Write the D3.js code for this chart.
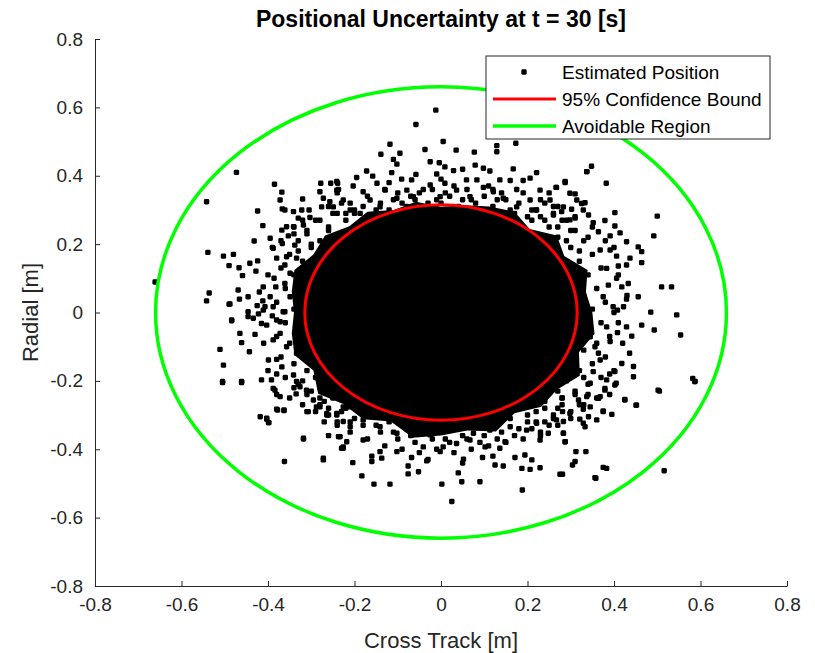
<!DOCTYPE html>
<html>
<head>
<meta charset="utf-8">
<script src="https://cdn.jsdelivr.net/npm/d3@7"></script>
<style>
  body { margin: 0; background: #fff; }
  svg { font-family: "Liberation Sans", Arial, Helvetica, sans-serif; }
</style>
</head>
<body>
<div id="chart"></div>
<script>
// axis ticks
const xTicks = [-0.8, -0.6, -0.4, -0.2, 0, 0.2, 0.4, 0.6, 0.8];
const yTicks = [-0.8, -0.6, -0.4, -0.2, 0, 0.2, 0.4, 0.6, 0.8];

// circle radii (95% bound and avoidable region)
const confidenceRadius = 0.315;
const avoidRadius = 0.66;

// the solid dense core of the cloud (ragged outline)
const coreOutline = [
  [0.350, 0], [0.335, 0.059], [0.339, 0.124], [0.285, 0.165], [0.268, 0.225], [0.205, 0.244],
  [0.170, 0.295], [0.112, 0.310], [0.056, 0.314], [0, 0.309], [-0.058, 0.324], [-0.109, 0.300],
  [-0.170, 0.295], [-0.212, 0.252], [-0.268, 0.225], [-0.295, 0.170], [-0.339, 0.124], [-0.345, 0.061],
  [-0.34, 0], [-0.345, -0.061], [-0.339, -0.124], [-0.295, -0.170], [-0.284, -0.238], [-0.226, -0.268],
  [-0.180, -0.312], [-0.116, -0.319], [-0.065, -0.366], [0, -0.36], [0.061, -0.345], [0.127, -0.348],
  [0.170, -0.295], [0.232, -0.276], [0.268, -0.226], [0.321, -0.185], [0.319, -0.116], [0.355, -0.063]
];

// dense band just outside the core
const ptsBandTop = [
  [-0.22, 0.27], [-0.20, 0.29], [-0.18, 0.31], [-0.16, 0.28], [-0.14, 0.32], [-0.12, 0.30], [-0.10, 0.35],
  [-0.08, 0.31], [-0.06, 0.33], [-0.04, 0.30], [-0.02, 0.36], [0.00, 0.32], [0.02, 0.34], [0.04, 0.31],
  [0.06, 0.36], [0.08, 0.32], [0.10, 0.34], [0.12, 0.31], [0.14, 0.35], [0.16, 0.30], [0.18, 0.32],
  [0.20, 0.28], [0.22, 0.30], [0.24, 0.27], [-0.21, 0.32], [-0.17, 0.34], [-0.13, 0.36], [-0.09, 0.32],
  [-0.05, 0.35], [-0.01, 0.33], [0.03, 0.37], [0.07, 0.33], [0.11, 0.37], [0.15, 0.33], [0.19, 0.35],
  [0.23, 0.33], [-0.19, 0.26], [-0.15, 0.30], [-0.11, 0.33], [-0.07, 0.34], [-0.03, 0.32], [0.01, 0.35],
  [0.05, 0.33], [0.09, 0.30], [0.13, 0.33], [0.17, 0.29], [0.21, 0.27], [-0.24, 0.29], [-0.12, 0.38],
  [0.00, 0.39], [0.12, 0.36], [0.26, 0.31], [-0.26, 0.25], [0.27, 0.25]
];

const ptsBandBottom = [
  [-0.22, -0.28], [-0.20, -0.31], [-0.18, -0.33], [-0.16, -0.30], [-0.14, -0.35], [-0.12, -0.32],
  [-0.10, -0.37], [-0.08, -0.34], [-0.06, -0.38], [-0.04, -0.33], [-0.02, -0.37], [0.00, -0.35],
  [0.02, -0.38], [0.04, -0.34], [0.06, -0.37], [0.08, -0.33], [0.10, -0.36], [0.12, -0.32], [0.14, -0.35],
  [0.16, -0.31], [0.18, -0.34], [0.20, -0.30], [0.22, -0.32], [0.24, -0.28], [0.26, -0.30],
  [-0.21, -0.35], [-0.17, -0.37], [-0.13, -0.39], [-0.09, -0.40], [-0.05, -0.41], [-0.01, -0.40],
  [0.03, -0.41], [0.07, -0.40], [0.11, -0.39], [0.15, -0.38], [0.19, -0.37], [0.23, -0.35], [0.27, -0.33],
  [-0.24, -0.32], [-0.19, -0.29], [-0.15, -0.33], [-0.11, -0.35], [-0.07, -0.36], [-0.03, -0.35],
  [0.01, -0.37], [0.05, -0.36], [0.09, -0.38], [0.13, -0.37], [0.17, -0.36], [0.21, -0.34], [0.25, -0.33],
  [-0.27, -0.26], [-0.26, -0.30], [0.28, -0.27], [0.30, -0.31], [-0.16, -0.42], [0.12, -0.42],
  [-0.03, -0.43], [0.05, -0.44]
];

const ptsBandLeft = [
  [-0.31, 0.24], [-0.33, 0.21], [-0.30, 0.19], [-0.35, 0.17], [-0.32, 0.15], [-0.37, 0.13], [-0.34, 0.11],
  [-0.31, 0.09], [-0.36, 0.07], [-0.33, 0.05], [-0.38, 0.03], [-0.34, 0.01], [-0.31, -0.01], [-0.36, -0.03],
  [-0.33, -0.05], [-0.38, -0.07], [-0.35, -0.09], [-0.32, -0.11], [-0.37, -0.13], [-0.34, -0.15],
  [-0.31, -0.17], [-0.36, -0.19], [-0.33, -0.21], [-0.30, -0.23], [-0.35, -0.25], [-0.32, -0.27],
  [-0.29, -0.29], [-0.39, 0.19], [-0.40, 0.11], [-0.39, -0.01], [-0.41, -0.09], [-0.40, -0.17],
  [-0.38, -0.24], [-0.42, 0.06], [-0.29, 0.27], [-0.28, -0.25], [-0.34, 0.25], [-0.37, 0.21], [-0.38, -0.18]
];

const ptsBandRight = [
  [0.31, 0.24], [0.33, 0.21], [0.30, 0.19], [0.35, 0.17], [0.32, 0.15], [0.37, 0.13], [0.34, 0.11],
  [0.31, 0.09], [0.36, 0.07], [0.33, 0.05], [0.38, 0.03], [0.35, 0.01], [0.32, -0.01], [0.37, -0.03],
  [0.34, -0.05], [0.39, -0.07], [0.36, -0.09], [0.33, -0.11], [0.38, -0.13], [0.35, -0.15], [0.32, -0.17],
  [0.37, -0.19], [0.34, -0.21], [0.31, -0.23], [0.36, -0.25], [0.33, -0.27], [0.30, -0.29], [0.40, 0.19],
  [0.41, 0.11], [0.40, 0.00], [0.42, -0.09], [0.40, -0.17], [0.39, -0.24], [0.43, 0.05], [0.29, 0.27],
  [0.28, -0.25], [0.35, 0.25], [0.38, 0.21], [0.39, -0.18], [0.41, -0.03]
];

// dense band on the diagonals
const ptsBandDiagonal = [
  [0.25, 0.25], [0.27, 0.22], [0.23, 0.28], [0.29, 0.21], [0.26, 0.29], [0.30, 0.24], [0.24, 0.32],
  [0.32, 0.18], [0.28, 0.27], [0.21, 0.30], [0.31, 0.28], [0.27, 0.31], [0.34, 0.22], [0.25, 0.35],
  [-0.26, 0.24], [-0.28, 0.21], [-0.22, 0.29], [-0.30, 0.20], [-0.25, 0.29], [-0.31, 0.23], [-0.23, 0.32],
  [-0.33, 0.18], [-0.28, 0.27], [-0.20, 0.30], [-0.32, 0.27], [-0.26, 0.31], [-0.34, 0.23], [-0.24, 0.35],
  [0.24, -0.26], [0.27, -0.23], [0.22, -0.29], [0.29, -0.20], [0.27, -0.28], [0.31, -0.24], [0.24, -0.32],
  [0.33, -0.19], [0.28, -0.25], [0.20, -0.32], [0.32, -0.27], [0.26, -0.31], [0.34, -0.24], [0.23, -0.36],
  [-0.25, -0.25], [-0.28, -0.22], [-0.23, -0.29], [-0.29, -0.19], [-0.26, -0.28], [-0.31, -0.24],
  [-0.24, -0.33], [-0.32, -0.20], [-0.28, -0.27], [-0.21, -0.32], [-0.31, -0.29], [-0.27, -0.32],
  [-0.34, -0.22], [-0.26, -0.36]
];

// estimated positions, upper left
const ptsUpperLeft = [
  [-0.661, 0.089], [-0.542, 0.324], [-0.473, 0.410], [-0.539, 0.176], [-0.536, 0.057], [-0.542, 0.034],
  [-0.385, 0.375], [-0.368, 0.352], [-0.372, 0.329], [-0.424, 0.297], [-0.412, 0.254], [-0.432, 0.209],
  [-0.503, 0.165], [-0.480, 0.170], [-0.490, 0.137], [-0.467, 0.131], [-0.459, 0.108], [-0.442, 0.144],
  [-0.424, 0.151], [-0.428, 0.121], [-0.386, 0.100], [-0.411, 0.075], [-0.469, 0.066], [-0.466, 0.039],
  [-0.446, 0.046], [-0.490, 0.024], [-0.484, -0.024], [-0.446, 0.002], [-0.425, 0.020], [-0.412, 0.034],
  [-0.367, 0.303], [-0.361, 0.300], [-0.341, 0.295], [-0.320, 0.332], [-0.322, 0.300], [-0.305, 0.300],
  [-0.278, 0.378], [-0.255, 0.378], [-0.239, 0.378], [-0.280, 0.353], [-0.237, 0.360], [-0.272, 0.334],
  [-0.257, 0.324], [-0.276, 0.309], [-0.330, 0.276], [-0.303, 0.278], [-0.357, 0.251], [-0.368, 0.241],
  [-0.341, 0.251], [-0.318, 0.256], [-0.353, 0.224], [-0.395, 0.217], [-0.388, 0.188], [-0.367, 0.202],
  [-0.338, 0.197], [-0.357, 0.163], [-0.380, 0.159], [-0.361, 0.139], [-0.334, 0.159], [-0.349, 0.115],
  [-0.326, 0.124], [-0.382, 0.075], [-0.361, 0.085], [-0.349, 0.046], [-0.395, 0.046], [-0.411, 0.007],
  [-0.388, 0.017], [-0.434, -0.017], [-0.415, -0.032], [-0.365, 0.002], [-0.372, -0.027]
];

// estimated positions, top
const ptsTop = [
  [-0.012, 0.592], [-0.058, 0.550], [0.005, 0.500], [-0.118, 0.492], [-0.037, 0.477], [0.035, 0.475],
  [0.077, 0.469], [0.129, 0.488], [0.129, 0.470], [0.173, 0.495], [-0.139, 0.463], [-0.095, 0.466],
  [-0.110, 0.448], [-0.102, 0.434], [-0.025, 0.441], [-0.004, 0.438], [0.009, 0.426], [0.079, 0.431],
  [0.098, 0.422], [0.167, 0.420], [-0.172, 0.414], [-0.114, 0.409], [-0.058, 0.404], [-0.010, 0.405],
  [0.029, 0.415], [0.050, 0.419], [0.113, 0.414], [0.221, 0.409], [-0.195, 0.395], [-0.158, 0.399],
  [-0.148, 0.378], [-0.091, 0.390], [-0.068, 0.388], [-0.025, 0.373], [0.009, 0.378], [0.059, 0.388],
  [0.083, 0.388], [0.136, 0.388], [0.160, 0.386], [0.190, 0.386], [0.206, 0.393], [0.267, 0.366],
  [0.287, 0.383], [0.337, 0.412], [-0.241, 0.383], [-0.241, 0.358], [-0.203, 0.370], [-0.180, 0.353],
  [-0.129, 0.358], [-0.079, 0.358], [-0.041, 0.360], [0.036, 0.358], [0.098, 0.366], [0.121, 0.353],
  [0.175, 0.360], [0.229, 0.358], [0.298, 0.349], [0.314, 0.329], [0.329, 0.300], [0.310, 0.276],
  [0.283, 0.309], [0.252, 0.329], [-0.226, 0.329], [-0.249, 0.309], [-0.210, 0.300], [-0.164, 0.329],
  [-0.102, 0.334], [-0.064, 0.339], [-0.002, 0.339], [0.067, 0.339], [0.144, 0.334], [0.206, 0.329],
  [0.175, 0.309], [0.221, 0.300], [-0.141, 0.309], [-0.187, 0.290], [0.260, 0.285]
];

// estimated positions, right
const ptsRight = [
  [0.348, 0.428], [0.337, 0.412], [0.382, 0.378], [0.287, 0.380], [0.266, 0.366], [0.310, 0.347],
  [0.333, 0.321], [0.325, 0.319], [0.279, 0.295], [0.302, 0.302], [0.341, 0.285], [0.402, 0.292],
  [0.500, 0.282], [0.492, 0.224], [0.298, 0.271], [0.352, 0.263], [0.379, 0.269], [0.402, 0.253],
  [0.364, 0.236], [0.414, 0.233], [0.391, 0.224], [0.429, 0.207], [0.456, 0.192], [0.464, 0.178],
  [0.464, 0.146], [0.437, 0.159], [0.406, 0.165], [0.391, 0.183], [0.368, 0.183], [0.410, 0.136],
  [0.383, 0.129], [0.429, 0.139], [0.406, 0.100], [0.433, 0.085], [0.387, 0.080], [0.418, 0.075],
  [0.510, 0.075], [0.533, 0.075], [0.456, 0.046], [0.429, 0.039], [0.375, 0.046], [0.398, 0.017],
  [0.422, 0.017], [0.408, 0.007], [0.485, 0.001], [0.545, -0.007], [0.464, -0.037], [0.493, -0.051],
  [0.554, -0.066], [0.429, -0.042], [0.441, -0.069], [0.408, -0.059], [0.383, -0.042], [0.391, -0.085],
  [0.436, -0.119], [0.445, -0.158], [0.445, -0.188], [0.418, -0.149], [0.402, -0.173], [0.368, -0.139],
  [0.383, -0.197], [0.405, -0.207], [0.379, -0.227], [0.425, -0.254], [0.451, -0.271], [0.502, -0.227],
  [0.582, -0.193], [0.587, -0.202], [0.352, -0.173], [0.345, -0.207], [0.337, -0.246], [0.364, -0.251],
  [0.356, -0.100], [0.345, -0.071], [0.364, -0.119]
];

// estimated positions, left
const ptsLeft = [
  [-0.511, -0.108], [-0.503, -0.154], [-0.505, -0.202], [-0.461, -0.202], [-0.465, -0.061], [-0.461, -0.088],
  [-0.443, -0.115], [-0.430, -0.064], [-0.484, -0.022], [-0.446, -0.012], [-0.488, 0.025], [-0.422, -0.004],
  [-0.399, -0.139], [-0.380, -0.137], [-0.415, -0.197], [-0.392, -0.197], [-0.384, -0.227], [-0.372, -0.246],
  [-0.418, -0.305], [-0.403, -0.309], [-0.399, -0.322], [-0.380, -0.283], [-0.363, -0.285], [-0.335, -0.238],
  [-0.334, -0.202], [-0.368, -0.159], [-0.341, -0.183], [-0.318, -0.368], [-0.272, -0.426], [-0.372, -0.061],
  [-0.388, -0.080], [-0.357, -0.100], [-0.403, -0.037], [-0.380, -0.022], [-0.407, 0.017], [-0.361, 0.002],
  [-0.334, -0.119], [-0.311, -0.227], [-0.295, -0.256], [-0.280, -0.276], [-0.264, -0.295], [-0.241, -0.300],
  [-0.226, -0.276], [-0.234, -0.363], [-0.226, -0.393], [-0.210, -0.334]
];

// estimated positions, bottom
const ptsBottom = [
  [0.025, -0.553], [0.188, -0.519], [0.002, -0.502], [0.048, -0.495], [0.090, -0.495], [-0.155, -0.502],
  [-0.118, -0.502], [-0.183, -0.478], [-0.204, -0.439], [-0.160, -0.436], [-0.137, -0.426], [-0.076, -0.472],
  [-0.052, -0.466], [-0.076, -0.449], [-0.068, -0.424], [-0.033, -0.434], [0.040, -0.469], [0.052, -0.429],
  [0.096, -0.424], [0.125, -0.446], [0.144, -0.449], [0.171, -0.424], [0.187, -0.456], [0.206, -0.459],
  [0.229, -0.454], [0.210, -0.431], [0.194, -0.417], [0.275, -0.473], [0.312, -0.407], [0.335, -0.407],
  [0.310, -0.436], [0.356, -0.483], [0.375, -0.453], [0.287, -0.378], [0.283, -0.353], [0.248, -0.353],
  [0.229, -0.373], [0.198, -0.344], [0.148, -0.378], [0.136, -0.397], [0.102, -0.393], [-0.002, -0.407],
  [0.005, -0.393], [-0.234, -0.363], [-0.226, -0.397], [-0.180, -0.373], [-0.141, -0.407], [-0.102, -0.407],
  [-0.041, -0.393], [0.067, -0.373], [0.036, -0.383], [0.329, -0.324], [0.360, -0.314], [0.345, -0.276],
  [0.375, -0.290], [0.368, -0.246], [0.318, -0.256], [0.383, -0.456], [-0.241, -0.295], [-0.210, -0.276],
  [-0.180, -0.314], [-0.141, -0.334], [-0.102, -0.353], [-0.064, -0.344], [-0.025, -0.358], [0.013, -0.344],
  [0.075, -0.353], [0.113, -0.344], [0.160, -0.334], [0.221, -0.324], [0.267, -0.314], [0.298, -0.295]
];

// estimated positions, lower corners
const ptsLowerCorners = [
  [-0.505, -0.205], [-0.461, -0.205], [-0.403, -0.312], [-0.398, -0.322], [-0.378, -0.285], [-0.363, -0.287],
  [-0.318, -0.370], [-0.362, -0.436], [-0.272, -0.431], [-0.237, -0.363], [-0.230, -0.397], [-0.218, -0.378],
  [-0.307, -0.290], [-0.288, -0.276], [-0.264, -0.300], [-0.226, -0.319], [-0.388, -0.222], [-0.326, -0.217],
  [0.505, -0.230], [0.587, -0.202], [0.452, -0.271], [0.425, -0.256], [0.395, -0.298], [0.375, -0.288],
  [0.364, -0.251], [0.402, -0.212], [0.379, -0.222], [0.333, -0.334], [0.341, -0.305], [0.321, -0.312],
  [0.329, -0.283], [0.283, -0.353], [0.287, -0.378], [0.304, -0.446], [0.358, -0.485], [0.516, -0.463],
  [0.281, -0.473], [0.283, -0.319], [0.281, -0.290]
];

const legendLabels = ["Estimated Position", "95% Confidence Bound", "Avoidable Region"];

const points = [].concat(ptsBandTop, ptsBandBottom, ptsBandLeft, ptsBandRight, ptsBandDiagonal,
    ptsUpperLeft, ptsTop, ptsRight, ptsLeft, ptsBottom, ptsLowerCorners);

const width = 815, height = 653;
const margin = { top: 39, right: 28, bottom: 67, left: 95 };
const innerW = width - margin.left - margin.right;
const innerH = height - margin.top - margin.bottom;
const axisColor = "#262626";
const dotSize = 5.4;

const svg = d3.select("#chart").append("svg")
    .attr("width", width)
    .attr("height", height);

const x = d3.scaleLinear().domain([-0.8, 0.8]).range([0, innerW]);
const y = d3.scaleLinear().domain([-0.8, 0.8]).range([innerH, 0]);

const g = svg.append("g").attr("transform", `translate(${margin.left},${margin.top})`);

// dense core
const coreLine = d3.line().x(d => x(d[0])).y(d => y(d[1])).curve(d3.curveLinearClosed);
g.append("path")
    .attr("d", coreLine(coreOutline))
    .attr("fill", "#000");

// scatter, matlab '.' markers look like small rounded squares
g.selectAll("rect.pt")
    .data(points)
    .enter()
    .append("rect")
    .attr("class", "pt")
    .attr("x", d => x(d[0]) - dotSize / 2)
    .attr("y", d => y(d[1]) - dotSize / 2)
    .attr("width", dotSize)
    .attr("height", dotSize)
    .attr("rx", 1.4)
    .attr("fill", "#000");

// circles
g.append("ellipse")
    .attr("cx", x(0)).attr("cy", y(0))
    .attr("rx", x(confidenceRadius) - x(0))
    .attr("ry", y(0) - y(confidenceRadius))
    .attr("fill", "none")
    .attr("stroke", "#ff0000")
    .attr("stroke-width", 3);

g.append("ellipse")
    .attr("cx", x(0)).attr("cy", y(0))
    .attr("rx", x(avoidRadius) - x(0))
    .attr("ry", y(0) - y(avoidRadius))
    .attr("fill", "none")
    .attr("stroke", "#00ff00")
    .attr("stroke-width", 3.5);

// axes (matlab style: ticks inside, plain hyphen minus)
const fmt = d => String(d);
const xAxis = g.append("g")
    .attr("transform", `translate(0,${innerH})`)
    .call(d3.axisBottom(x).tickValues(xTicks).tickSizeInner(-5).tickSizeOuter(0)
        .tickFormat(fmt).tickPadding(12));
const yAxis = g.append("g")
    .call(d3.axisLeft(y).tickValues(yTicks).tickSizeInner(-5).tickSizeOuter(0)
        .tickFormat(fmt).tickPadding(12));

[xAxis, yAxis].forEach(a => {
    a.select(".domain").attr("stroke", axisColor).attr("stroke-width", 1);
    a.selectAll(".tick line").attr("stroke", axisColor);
    a.selectAll(".tick text")
        .attr("fill", axisColor)
        .attr("font-size", "19px")
        .attr("font-family", "Liberation Sans, Arial, sans-serif");
});

// title and labels
svg.append("text")
    .attr("x", margin.left + innerW / 2)
    .attr("y", 27)
    .attr("text-anchor", "middle")
    .attr("font-weight", "bold")
    .attr("font-size", "23px")
    .attr("fill", "#000")
    .text("Positional Uncertainty at t = 30 [s]");

svg.append("text")
    .attr("x", margin.left + innerW / 2)
    .attr("y", 648)
    .attr("text-anchor", "middle")
    .attr("font-size", "22px")
    .attr("fill", axisColor)
    .text("Cross Track [m]");

svg.append("text")
    .attr("transform", `translate(38,${margin.top + innerH / 2}) rotate(-90)`)
    .attr("text-anchor", "middle")
    .attr("font-size", "22px")
    .attr("fill", axisColor)
    .text("Radial [m]");

// legend
const legend = svg.append("g").attr("transform", "translate(486,56)");
legend.append("rect")
    .attr("width", 284).attr("height", 83)
    .attr("fill", "#fff")
    .attr("stroke", axisColor)
    .attr("stroke-width", 1);

const rowY = [16, 43, 70];
legend.append("rect")
    .attr("x", 38 - dotSize / 2).attr("y", rowY[0] - dotSize / 2)
    .attr("width", dotSize).attr("height", dotSize).attr("rx", 1.4)
    .attr("fill", "#000");
legend.append("line").attr("x1", 7).attr("x2", 70).attr("y1", rowY[1]).attr("y2", rowY[1])
    .attr("stroke", "#ff0000").attr("stroke-width", 3);
legend.append("line").attr("x1", 7).attr("x2", 70).attr("y1", rowY[2]).attr("y2", rowY[2])
    .attr("stroke", "#00ff00").attr("stroke-width", 3.5);

legend.selectAll("text.lab")
    .data(legendLabels)
    .enter()
    .append("text")
    .attr("class", "lab")
    .attr("x", 76)
    .attr("y", (d, i) => rowY[i])
    .attr("dy", "0.35em")
    .attr("font-size", "19px")
    .attr("fill", "#000")
    .text(d => d);
</script>
</body>
</html>
